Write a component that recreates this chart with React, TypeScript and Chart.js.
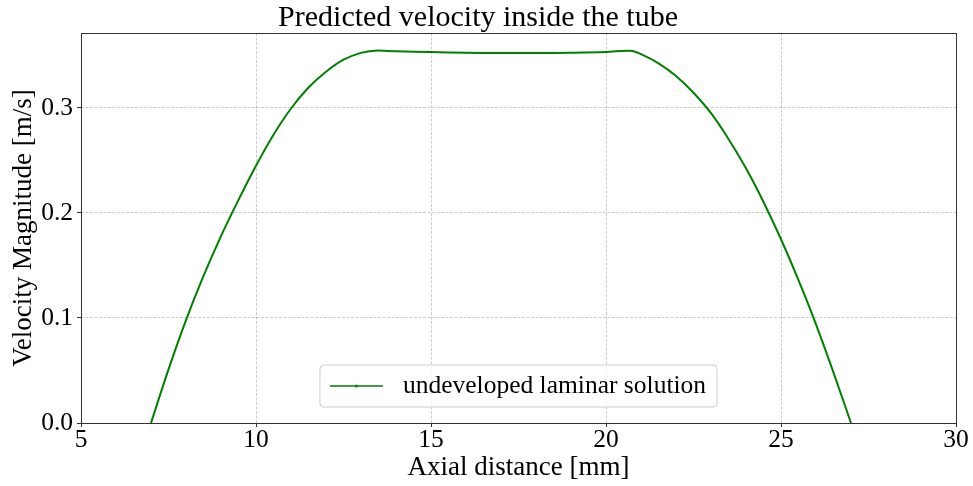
import React, { useEffect, useRef } from "react";
import { Chart, registerables } from "chart.js";

Chart.register(...registerables);

const axialDistance = [
  7.0, 7.5, 8.0, 8.5, 9.0, 9.5, 10.0, 10.5, 11.0, 11.5, 12.0, 12.5, 13.0, 13.4,
  14.0, 15.0, 16.0, 17.0, 18.0, 19.0, 20.0, 20.7,
  21.0, 21.5, 22.0, 22.5, 23.0, 23.5, 24.0, 24.5, 25.0, 25.5, 26.0, 26.5, 27.0,
];
const velocity = [
  0.0, 0.051, 0.098, 0.14, 0.178, 0.2125, 0.245, 0.2745, 0.2995, 0.3195, 0.3345, 0.346, 0.3525, 0.3546,
  0.354, 0.3532, 0.3526, 0.3523, 0.3523, 0.3526, 0.3533, 0.3545,
  0.3512, 0.3425, 0.3305, 0.3145, 0.295, 0.2705, 0.2425, 0.2105, 0.175, 0.136, 0.094, 0.048, 0.0,
];
const seriesLabel = "undeveloped laminar solution";
const chartTitle = "Predicted velocity inside the tube";
const xAxisTitle = "Axial distance [mm]";
const yAxisTitle = "Velocity Magnitude [m/s]";
const xTicks = [5, 10, 15, 20, 25, 30];
const yTicks = [0.0, 0.1, 0.2, 0.3];

const FONT = "'Liberation Serif', 'DejaVu Serif', serif";
const LINE_COLOR = "#008000";

const framePlugin = {
  id: "frame",
  afterDatasetsDraw(chart: any) {
    const { ctx, chartArea } = chart;
    ctx.save();
    ctx.strokeStyle = "#333333";
    ctx.lineWidth = 1;
    ctx.setLineDash([]);
    ctx.strokeRect(
      Math.round(chartArea.left) + 0.5,
      Math.round(chartArea.top) + 0.5,
      Math.round(chartArea.right - chartArea.left),
      Math.round(chartArea.bottom - chartArea.top)
    );
    ctx.restore();
  },
};

const legendPlugin = {
  id: "innerLegend",
  afterDraw(chart: any) {
    const { ctx, chartArea } = chart;
    const ds = chart.data.datasets[0];
    ctx.save();
    ctx.font = `25.5px ${FONT}`;
    const textW = ctx.measureText(ds.label).width;
    const padL = 10, sample = 53, gap = 20, padR = 11;
    const boxW = padL + sample + gap + textW + padR;
    const boxH = 42;
    const cx = (chartArea.left + chartArea.right) / 2;
    const x0 = cx - boxW / 2;
    const y0 = chartArea.bottom - 16 - boxH;
    const r = 4;
    ctx.beginPath();
    ctx.moveTo(x0 + r, y0);
    ctx.lineTo(x0 + boxW - r, y0);
    ctx.quadraticCurveTo(x0 + boxW, y0, x0 + boxW, y0 + r);
    ctx.lineTo(x0 + boxW, y0 + boxH - r);
    ctx.quadraticCurveTo(x0 + boxW, y0 + boxH, x0 + boxW - r, y0 + boxH);
    ctx.lineTo(x0 + r, y0 + boxH);
    ctx.quadraticCurveTo(x0, y0 + boxH, x0, y0 + boxH - r);
    ctx.lineTo(x0, y0 + r);
    ctx.quadraticCurveTo(x0, y0, x0 + r, y0);
    ctx.closePath();
    ctx.fillStyle = "rgba(255,255,255,0.8)";
    ctx.fill();
    ctx.strokeStyle = "#cccccc";
    ctx.lineWidth = 1;
    ctx.stroke();

    const ly = y0 + boxH / 2;
    ctx.strokeStyle = ds.borderColor;
    ctx.lineWidth = 1.5;
    ctx.beginPath();
    ctx.moveTo(x0 + padL, ly);
    ctx.lineTo(x0 + padL + sample, ly);
    ctx.stroke();
    ctx.fillStyle = ds.borderColor;
    ctx.beginPath();
    ctx.arc(x0 + padL + sample / 2, ly, 1.5, 0, Math.PI * 2);
    ctx.fill();

    ctx.fillStyle = "#000000";
    ctx.textAlign = "left";
    ctx.textBaseline = "middle";
    ctx.fillText(ds.label, x0 + padL + sample + gap, ly);
    ctx.restore();
  },
};

export default function App() {
  const canvasRef = useRef<HTMLCanvasElement | null>(null);

  useEffect(() => {
    const canvas = canvasRef.current;
    if (!canvas) return;
    const points = axialDistance.map((x, i) => ({ x, y: velocity[i] }));
    const chart = new Chart(canvas, {
      type: "line",
      data: {
        datasets: [
          {
            label: seriesLabel,
            data: points,
            borderColor: LINE_COLOR,
            backgroundColor: LINE_COLOR,
            borderWidth: 2,
            pointRadius: 0,
            tension: 0.35,
            fill: false,
          },
        ],
      },
      options: {
        responsive: false,
        animation: false,
        maintainAspectRatio: false,
        layout: { padding: { left: 0, right: 17, top: 0, bottom: 0 } },
        plugins: {
          legend: { display: false },
          tooltip: { enabled: false },
          title: {
            display: true,
            text: chartTitle,
            color: "#000000",
            font: { family: FONT, size: 30, weight: "normal", lineHeight: 1 },
            padding: { top: 3, bottom: 0 },
          },
        },
        scales: {
          x: {
            type: "linear",
            min: 5,
            max: 30,
            afterBuildTicks: (scale: any) => {
              scale.ticks = xTicks.map((v) => ({ value: v }));
            },
            afterFit: (scale: any) => {
              scale.height = 63;
            },
            ticks: {
              color: "#000000",
              font: { family: FONT, size: 25.5, lineHeight: 1 },
              padding: 1,
              maxRotation: 0,
              callback: (v: any) => String(v),
            },
            grid: {
              color: "rgba(0,0,0,0.2)",
              lineWidth: 1,
              drawTicks: true,
              tickLength: 4,
              tickColor: "#333333",
              tickWidth: 1,
              tickBorderDash: [],
            },
            border: { display: false, dash: [3, 1.5] },
            title: {
              display: true,
              text: xAxisTitle,
              color: "#000000",
              font: { family: FONT, size: 27, lineHeight: 1.2 },
              padding: { top: 0, bottom: 2 },
            },
          },
          y: {
            type: "linear",
            min: 0,
            max: 0.3714,
            afterBuildTicks: (scale: any) => {
              scale.ticks = yTicks.map((v) => ({ value: v }));
            },
            afterFit: (scale: any) => {
              scale.width = 81;
            },
            ticks: {
              color: "#000000",
              font: { family: FONT, size: 25.5, lineHeight: 1 },
              padding: 4,
              callback: (v: any) => Number(v).toFixed(1),
            },
            grid: {
              color: "rgba(0,0,0,0.2)",
              lineWidth: 1,
              drawTicks: true,
              tickLength: 4,
              tickColor: "#333333",
              tickWidth: 1,
              tickBorderDash: [],
            },
            border: { display: false, dash: [3, 1.5] },
            title: {
              display: true,
              text: yAxisTitle,
              color: "#000000",
              font: { family: FONT, size: 27, lineHeight: 1.2 },
              padding: { top: 8, bottom: 0 },
            },
          },
        },
      },
      plugins: [framePlugin, legendPlugin],
    } as any);
    return () => chart.destroy();
  }, []);

  return (
    <div style={{ position: "absolute", left: 0, top: 0, width: 973, height: 486, background: "#ffffff" }}>
      <canvas ref={canvasRef} width={973} height={486} style={{ display: "block" }} />
    </div>
  );
}
